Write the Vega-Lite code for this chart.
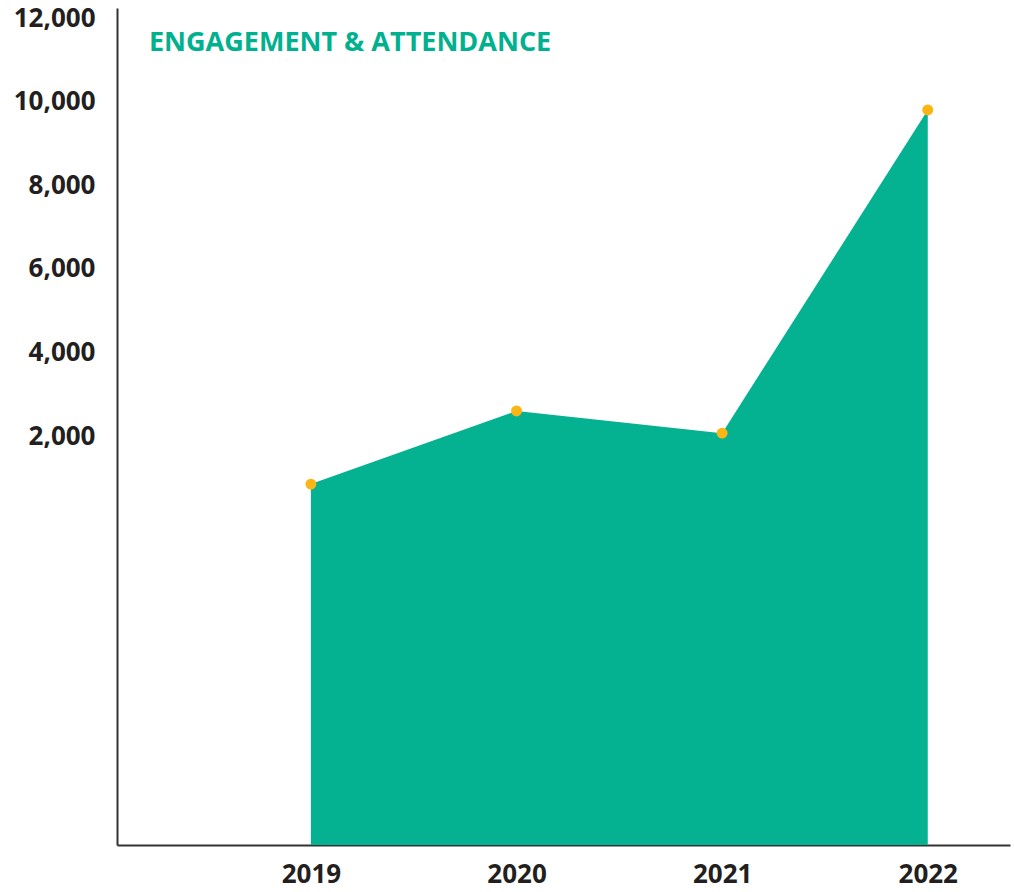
{
  "$schema": "https://vega.github.io/schema/vega-lite/v6.json",
  "width": 893,
  "height": 837,
  "autosize": {"type": "none"},
  "padding": {"left": 117, "top": 8, "right": 4, "bottom": 47},
  "background": "white",
  "title": {
    "text": "ENGAGEMENT & ATTENDANCE",
    "anchor": "start",
    "frame": "group",
    "orient": "top",
    "offset": -52,
    "dx": 32,
    "font": "Open Sans",
    "fontWeight": "bold",
    "fontSize": 27,
    "color": "#00b08f"
  },
  "data": {
    "values": [
      {"year": 2019, "value": 850},
      {"year": 2020, "value": 2600},
      {"year": 2021, "value": 2070},
      {"year": 2022, "value": 9800}
    ]
  },
  "encoding": {
    "x": {
      "field": "year",
      "type": "quantitative",
      "scale": {"domain": [2018.057, 2022.4], "nice": false, "zero": false},
      "axis": {
        "title": null,
        "values": [2019, 2020, 2021, 2022],
        "format": "d",
        "ticks": false,
        "grid": false,
        "domainColor": "#333333",
        "domainWidth": 2,
        "labelFont": "Open Sans",
        "labelFontWeight": "bold",
        "labelFontSize": 26,
        "labelColor": "#231f20",
        "labelPadding": 16
      }
    },
    "y": {
      "field": "value",
      "type": "quantitative",
      "scale": {"domain": [-7783, 12240], "nice": false, "zero": false},
      "axis": {
        "title": null,
        "values": [2000, 4000, 6000, 8000, 10000, 12000],
        "format": ",d",
        "ticks": false,
        "grid": false,
        "domainColor": "#333333",
        "domainWidth": 2,
        "labelFont": "Open Sans",
        "labelFontWeight": "bold",
        "labelFontSize": 26,
        "labelColor": "#231f20",
        "labelPadding": 22
      }
    }
  },
  "layer": [
    {
      "mark": {"type": "area", "color": "#04b190", "opacity": 1},
      "encoding": {"y2": {"datum": -7783}}
    },
    {
      "mark": {"type": "point", "filled": true, "size": 120, "color": "#fbb616", "opacity": 1}
    }
  ],
  "config": {"view": {"stroke": null}}
}
